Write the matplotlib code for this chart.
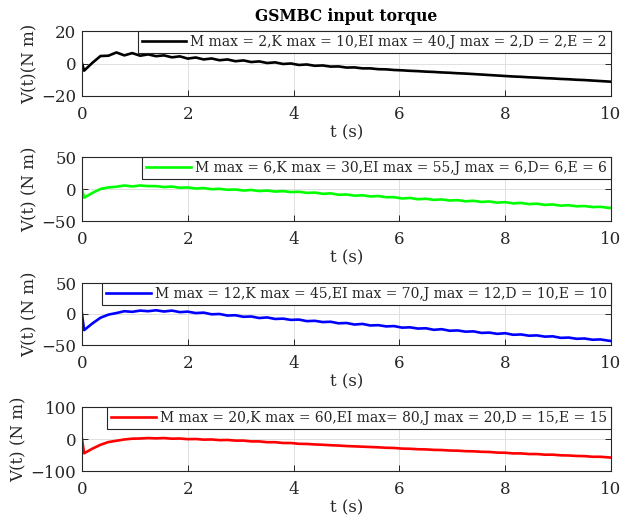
import numpy as np
import matplotlib
matplotlib.use("Agg")
import matplotlib.pyplot as plt

# time samples (s), shared by all four runs
t = [0, 0.04, 0.2, 0.35, 0.5, 0.65, 0.8, 0.95, 1.1, 1.25,
     1.4, 1.55, 1.7, 1.85, 2.0, 2.15, 2.3, 2.45, 2.6, 2.75,
     2.9, 3.05, 3.2, 3.35, 3.5, 3.65, 3.8, 3.95, 4.1, 4.25,
     4.4, 4.55, 4.7, 4.85, 5.0, 5.15, 5.3, 5.45, 5.6, 5.75,
     5.9, 6.05, 6.2, 6.35, 6.5, 6.65, 6.8, 6.95, 7.1, 7.25,
     7.4, 7.55, 7.7, 7.85, 8.0, 8.15, 8.3, 8.45, 8.6, 8.75,
     8.9, 9.05, 9.2, 9.35, 9.5, 9.65, 9.8, 9.95, 10.0]

# input torque V(t) for each gain set
v_run1 = [0, -4.4, 0.5, 4.6, 4.8, 6.8, 5.0, 6.4, 4.8, 5.6,
          4.5, 5.0, 3.8, 4.4, 3.0, 3.7, 2.5, 3.1, 2.0, 2.5,
          1.4, 1.9, 0.9, 1.3, 0.3, 0.7, -0.3, 0.0, -0.9, -0.6,
          -1.4, -1.2, -1.9, -1.8, -2.5, -2.4, -3.0, -3.0, -3.5, -3.6,
          -4.0, -4.2, -4.5, -4.7, -5.0, -5.2, -5.5, -5.7, -6.0, -6.2,
          -6.5, -6.8, -7.1, -7.4, -7.7, -8.0, -8.2, -8.5, -8.7, -9.0,
          -9.2, -9.5, -9.7, -10.0, -10.2, -10.5, -10.8, -11.1, -11.2]

v_run2 = [0, -13.5, -6.0, 0.0, 2.5, 3.5, 5.5, 4.0, 5.5, 4.5,
          4.5, 3.0, 3.8, 2.0, 2.4, 0.8, 1.4, -0.3, 0.2, -1.2,
          -0.8, -2.4, -1.5, -3.2, -2.4, -4.0, -3.3, -4.8, -4.3, -6.0,
          -5.6, -7.5, -6.8, -9.0, -8.6, -10.4, -9.8, -11.6, -11.0, -12.8,
          -12.8, -14.8, -14.0, -16.0, -15.2, -17.0, -16.3, -18.0, -17.4, -19.2,
          -18.4, -20.2, -19.5, -21.3, -20.6, -22.4, -21.8, -23.6, -23.0, -24.8,
          -24.2, -26.0, -25.4, -27.0, -26.6, -28.2, -27.8, -29.5, -29.5]

v_run3 = [0, -26.0, -15.0, -6.0, -1.0, 1.5, 4.5, 3.5, 5.5, 4.5,
          6.0, 4.0, 5.5, 3.0, 3.8, 1.5, 2.2, -0.5, 0.0, -2.5,
          -2.0, -4.5, -4.0, -6.5, -5.5, -8.0, -7.5, -9.5, -9.0, -11.5,
          -11.0, -13.0, -12.5, -15.0, -14.5, -17.0, -16.0, -18.5, -18.0, -20.0,
          -19.5, -22.0, -21.5, -23.5, -23.0, -25.5, -24.5, -27.0, -26.5, -28.5,
          -28.0, -30.5, -30.0, -32.0, -31.0, -33.5, -33.0, -35.0, -34.5, -36.5,
          -36.0, -38.5, -38.0, -40.0, -39.5, -41.5, -41.0, -43.0, -43.5]

v_run4 = [0, -44.6, -30.0, -18.0, -9.5, -5.5, -1.5, 1.0, 1.5, 3.0,
          2.0, 3.0, 1.0, 1.5, -0.5, 0.0, -2.0, -1.5, -3.5, -3.0,
          -5.0, -5.0, -7.5, -7.5, -10.0, -10.0, -12.5, -12.5, -15.0, -15.5,
          -17.0, -18.0, -19.5, -20.5, -22.0, -23.0, -24.0, -25.0, -26.0, -27.5,
          -28.0, -30.0, -30.5, -32.0, -32.5, -34.0, -34.5, -36.0, -36.5, -38.0,
          -38.5, -40.0, -40.5, -42.5, -43.0, -45.0, -45.0, -47.0, -47.0, -49.0,
          -49.0, -51.0, -51.5, -53.0, -53.5, -55.5, -55.5, -57.5, -58.0]

labels = ["M max = 2,K max = 10,EI max = 40,J max = 2,D = 2,E = 2",
          "M max = 6,K max = 30,EI max = 55,J max = 6,D= 6,E = 6",
          "M max = 12,K max = 45,EI max = 70,J max = 12,D = 10,E = 10",
          "M max = 20,K max = 60,EI max= 80,J max = 20,D = 15,E = 15"]
colors = ["black", "#00ff00", "#0000ff", "#ff0000"]
ylims = [20, 50, 50, 100]
ylabels = ["V(t)(N m)", "V(t) (N m)", "V(t) (N m)", "V(t) (N m)"]
runs = [v_run1, v_run2, v_run3, v_run4]

plt.rcParams['font.family'] = ['DejaVu Serif']
dark = '#262626'

W, H = 636, 518
fig = plt.figure(figsize=(W / 100, H / 100), dpi=100)

# axes boxes in pixels: (top, bottom)
boxes = [(31, 96), (157, 221), (283, 345), (407, 471)]
left, right = 82, 611

for i, (top, bot) in enumerate(boxes):
    ax = fig.add_axes([left / W, 1 - bot / H, (right - left) / W, (bot - top) / H])
    ax.plot(t, runs[i], color=colors[i], lw=1.9, label=labels[i])
    lim = ylims[i]
    ax.set_xlim(0, 10)
    ax.set_ylim(-lim, lim)
    ax.set_xticks([0, 2, 4, 6, 8, 10])
    ax.set_yticks([-lim, 0, lim])
    ax.grid(True, color='#e0e0e0', lw=0.7)
    ax.set_axisbelow(True)
    ax.tick_params(direction='in', length=4, width=0.7, top=True, right=True,
                   labelsize=12, colors=dark, labelcolor=dark)
    ax.tick_params(axis='x', pad=7)
    ax.tick_params(axis='y', pad=4)
    for sp in ax.spines.values():
        sp.set_color(dark)
        sp.set_linewidth(0.8)
    ax.set_xlabel("t (s)", fontsize=12, color=dark, labelpad=1)
    ax.set_ylabel(ylabels[i], fontsize=12, color=dark, labelpad=2)
    leg = ax.legend(loc='upper right', borderaxespad=0, fontsize=10,
                    handlelength=3.2, handletextpad=0.3, borderpad=0.3,
                    fancybox=False, framealpha=1, edgecolor=dark)
    leg.get_frame().set_linewidth(0.8)
    for txt in leg.get_texts():
        txt.set_color(dark)
    if i == 0:
        ax.set_title("GSMBC input torque", fontsize=11.2, fontweight='bold',
                     color='black', pad=7)

fig.savefig("out.png", dpi=100)
